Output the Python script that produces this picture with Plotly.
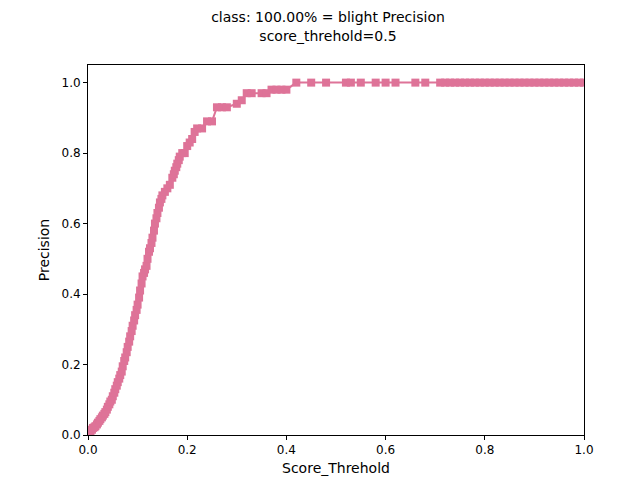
import plotly.graph_objects as go

score = [0.0, 0.003, 0.005, 0.008, 0.01, 0.013, 0.015, 0.018, 0.02, 0.023, 0.025, 0.028, 0.03,
         0.033, 0.035, 0.038, 0.04, 0.043, 0.045, 0.048, 0.05, 0.053, 0.055, 0.058, 0.06,
         0.063, 0.065, 0.068, 0.07, 0.073, 0.075, 0.078, 0.08, 0.083, 0.085, 0.088, 0.09,
         0.093, 0.095, 0.098, 0.10, 0.103, 0.105, 0.108, 0.11, 0.113, 0.115, 0.118, 0.12,
         0.123, 0.125, 0.128, 0.13, 0.133, 0.135, 0.138, 0.14, 0.143, 0.145, 0.148, 0.15,
         0.155, 0.16, 0.165, 0.17, 0.173, 0.175, 0.178, 0.18, 0.183, 0.185, 0.19, 0.195,
         0.20, 0.205, 0.21, 0.215, 0.22, 0.23, 0.24, 0.25, 0.26, 0.27, 0.28, 0.30, 0.31, 0.32, 0.33,
         0.35, 0.36, 0.37, 0.38, 0.39, 0.40, 0.42, 0.45, 0.48, 0.52, 0.53, 0.55, 0.58, 0.60,
         0.62, 0.66, 0.68, 0.71, 0.72, 0.73, 0.74, 0.75, 0.76, 0.77, 0.78, 0.79, 0.80, 0.81,
         0.82, 0.83, 0.84, 0.85, 0.86, 0.87, 0.88, 0.89, 0.90, 0.91, 0.92, 0.93, 0.94, 0.95,
         0.96, 0.97, 0.98, 0.99, 1.0]
precision = [0.0, 0.005, 0.01, 0.015, 0.02, 0.022, 0.025, 0.03, 0.035, 0.04, 0.045, 0.05, 0.055,
             0.06, 0.065, 0.072, 0.08, 0.087, 0.095, 0.10, 0.11, 0.12, 0.13, 0.14, 0.15,
             0.16, 0.17, 0.18, 0.195, 0.21, 0.22, 0.235, 0.25, 0.265, 0.28, 0.295, 0.31,
             0.325, 0.34, 0.355, 0.37, 0.39, 0.41, 0.43, 0.45, 0.46, 0.47, 0.48, 0.50,
             0.52, 0.53, 0.545, 0.56, 0.58, 0.60, 0.615, 0.63, 0.645, 0.66, 0.67, 0.68,
             0.69, 0.70, 0.71, 0.73, 0.74, 0.75, 0.76, 0.77, 0.78, 0.79, 0.80, 0.80,
             0.82, 0.83, 0.84, 0.86, 0.87, 0.87, 0.89, 0.89, 0.93, 0.93, 0.93, 0.94, 0.95, 0.97, 0.97,
             0.97, 0.97, 0.98, 0.98, 0.98, 0.98, 1.0, 1.0, 1.0, 1.0, 1.0, 1.0, 1.0, 1.0,
             1.0, 1.0, 1.0, 1.0, 1.0, 1.0, 1.0, 1.0, 1.0, 1.0, 1.0, 1.0, 1.0, 1.0,
             1.0, 1.0, 1.0, 1.0, 1.0, 1.0, 1.0, 1.0, 1.0, 1.0, 1.0, 1.0, 1.0, 1.0,
             1.0, 1.0, 1.0, 1.0, 1.0]

color = "#de7398"

fig = go.Figure(go.Scatter(
    x=score, y=precision, mode="lines+markers",
    line=dict(color=color, width=2),
    marker=dict(symbol="square", size=8, color=color),
    showlegend=False,
))

axis = dict(showgrid=False, zeroline=False, showline=True, linecolor="black", linewidth=1,
            mirror=True, ticks="outside", ticklen=4, tickcolor="black", automargin=False,
            tickfont=dict(size=12, color="black"))

fig.update_layout(
    width=640, height=480,
    margin=dict(l=80, r=64, t=57, b=53, autoexpand=False),
    paper_bgcolor="white", plot_bgcolor="white",
    font=dict(family="DejaVu Sans", size=12, color="black"),
    title=dict(text="class: 100.00% = blight Precision<br>score_threhold=0.5", automargin=False,
               x=0.5, xanchor="center", yref="container", y=0.97, yanchor="top",
               font=dict(size=14)),
    xaxis=dict(axis, range=[0, 1], dtick=0.2, tickformat=".1f",
               title=dict(text="Score_Threhold", standoff=6)),
    yaxis=dict(axis, range=[0, 1.05], dtick=0.2, tickformat=".1f",
               title=dict(text="Precision", standoff=8)),
)

fig.write_html("out.html")
